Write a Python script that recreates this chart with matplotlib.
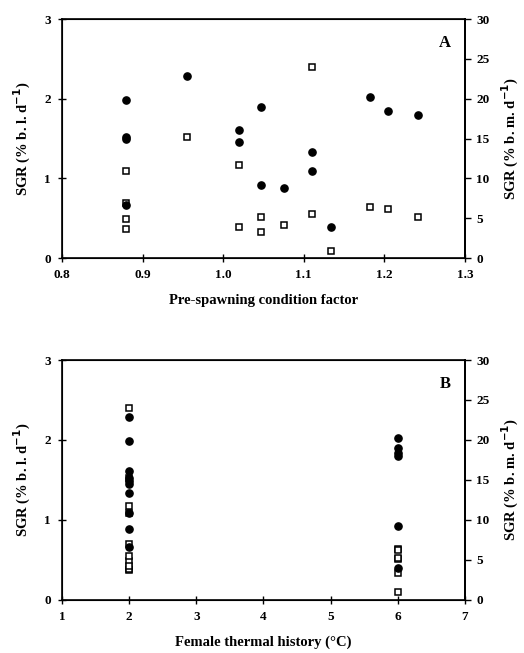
import numpy as np
import matplotlib.pyplot as plt

plt.rcParams['font.family'] = ['Liberation Serif', 'DejaVu Serif']
plt.rcParams['font.weight'] = 'bold'

# one entry per female
condition = [0.88, 0.88, 0.88, 0.88, 0.955, 1.02, 1.02, 1.047, 1.047,
             1.076, 1.11, 1.11, 1.134, 1.182, 1.204, 1.242]
thermal = [2, 2, 2, 2, 2, 2, 2, 6, 6,
           2, 2, 2, 6, 6, 6, 6]
sgr_bl = [1.98, 1.52, 1.49, 0.66, 2.29, 1.61, 1.45, 1.90, 0.92,
          0.88, 1.33, 1.09, 0.39, 2.02, 1.84, 1.80]
sgr_bm = [10.9, 6.9, 4.85, 3.7, 15.2, 11.7, 3.85, 5.1, 3.26,
          4.18, 24.0, 5.5, 0.9, 6.36, 6.15, 5.18]

left_ticks = [0, 1, 2, 3]
right_ticks = [0, 5, 10, 15, 20, 25, 30]


def sgr_panel(ax, x, xlim, xticks, xfmt, xlabel, letter):
    ax.plot(x, sgr_bl, 'o', color='black', markersize=5.2, zorder=3)
    ax.set_xlim(*xlim)
    ax.set_ylim(0, 3)
    ax.set_xticks(xticks)
    ax.set_xticklabels([xfmt.format(t) for t in xticks])
    ax.set_yticks(left_ticks)
    ax.tick_params(axis='both', direction='inout', length=6, width=1,
                   labelsize=9.5, pad=5)
    ax.set_xlabel(xlabel, fontsize=10.5, fontweight='bold', labelpad=9)
    ax.set_ylabel(r'SGR (% b. l. d$^{\mathbf{-1}}$)', fontsize=10.5,
                  fontweight='bold', labelpad=8)
    for s in ax.spines.values():
        s.set_linewidth(1.2)

    ax2 = ax.twinx()
    ax2.plot(x, sgr_bm, 's', markerfacecolor='white', markeredgecolor='black',
             markeredgewidth=1.1, markersize=4.6, zorder=2)
    ax2.set_ylim(0, 30)
    ax2.set_yticks(right_ticks)
    ax2.tick_params(axis='y', direction='out', length=4, width=1,
                    labelsize=9.5, pad=4)
    ax2.set_ylabel(r'SGR (% b. m. d$^{\mathbf{-1}}$)', fontsize=10.5,
                   fontweight='bold', labelpad=8)
    ax2.spines['right'].set_linewidth(1.4)

    # filled circles sit over the open squares
    ax.set_zorder(ax2.get_zorder() + 1)
    ax.patch.set_visible(False)
    ax.text(0.965, 0.935, letter, transform=ax.transAxes, ha='right',
            va='top', fontsize=12, fontweight='bold')


fig = plt.figure(figsize=(5.24, 6.53), dpi=100)
axA = fig.add_axes([0.1183, 0.6049, 0.769, 0.366])
axB = fig.add_axes([0.1183, 0.0819, 0.769, 0.3667])

sgr_panel(axA, condition, (0.8, 1.3), [0.8, 0.9, 1.0, 1.1, 1.2, 1.3], '{:.1f}',
          'Pre-spawning condition factor', 'A')
sgr_panel(axB, thermal, (1, 7), [1, 2, 3, 4, 5, 6, 7], '{:d}',
          'Female thermal history (\u00b0C)', 'B')

fig.savefig('out.png', dpi=100)
